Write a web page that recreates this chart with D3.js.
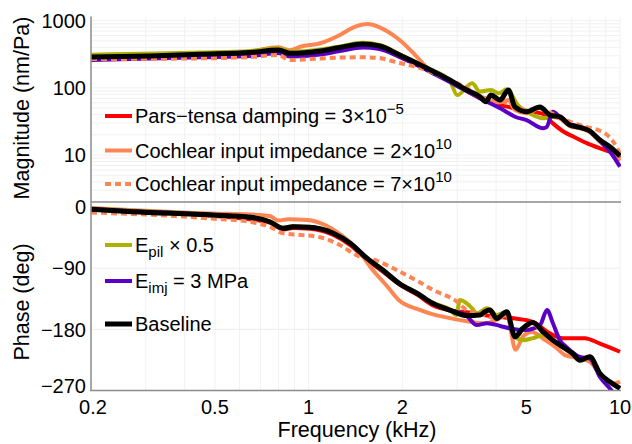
<!DOCTYPE html>
<html>
<head>
<meta charset="utf-8">
<script src="https://cdn.jsdelivr.net/npm/d3@7"></script>
<style>
  body { margin: 0; background: #fff; }
  text { font-family: "Liberation Sans", Arial, sans-serif; fill: #000; }
</style>
</head>
<body>
<div id="chart"></div>
<script>
// tick labels
const xTicks = [0.2, 0.5, 1, 2, 5, 10]
const magTicks = [10, 100, 1000]
const phaseTicks = [0, -90, -180, -270]

// magnitude (nm/Pa), [kHz, value]
const magRed = [[0.2,280],[0.45,305],[0.65,325],[0.8,352],[0.87,315],[1.09,340],[1.26,380],[1.49,420],[1.69,390],[1.96,290],[2.39,190],[2.84,125],[3.22,90],[3.55,70],[4.12,55.6],[4.6,49.6],[5.25,44],[5.66,40.8],[6.09,29.6],[6.6,22.2],[7.1,18.7],[7.85,14.9],[8.62,12.6],[9.28,11.2],[10,9.0]]
const magCoral = [[0.2,285],[0.45,318],[0.65,348],[0.8,402],[0.87,362],[0.94,410],[1.09,461],[1.26,612],[1.4,805],[1.55,893],[1.69,798],[1.96,516],[2.2,308],[2.39,204],[2.84,127],[3.22,90],[3.55,70],[4.12,61],[4.38,66],[4.6,46.8],[5.01,42],[5.53,50],[5.96,38],[6.41,35],[6.9,27],[7.43,25],[8.0,22],[8.62,15.7],[9.28,12],[10,8.2]]
const magCoralDash = [[0.2,269],[0.45,275],[0.65,288],[0.8,308],[0.87,260],[1.09,274],[1.26,283],[1.49,285],[1.69,278],[1.85,251],[1.96,235],[2.39,184],[2.84,131],[3.22,100],[3.55,75],[4.12,63.6],[4.6,54],[5.01,47],[5.53,50],[6.09,40.8],[6.9,31.4],[7.83,26.1],[8.62,23],[9.08,20],[9.5,16],[10,10.5]]
const magOlive = [[0.2,312],[0.45,335],[0.65,355],[0.8,385],[0.87,345],[1.09,372],[1.26,415],[1.49,470],[1.69,435],[1.96,315],[2.39,200],[2.84,128],[3.0,78],[3.35,117],[3.55,88],[3.85,93],[4.08,83],[4.33,95],[4.7,55.6],[5.25,39.4],[5.66,35.2],[6.09,37.2],[6.41,37],[6.9,28],[7.43,25.8],[8.0,22.8],[8.62,16.7],[9.28,13.3],[10,9.7]]
const magPurple = [[0.2,260],[0.45,285],[0.65,298],[0.8,330],[0.87,293],[1.09,314],[1.26,354],[1.49,399],[1.69,379],[1.96,288],[2.39,185],[2.84,122],[3.22,90],[3.55,70],[4.12,49.6],[4.38,42.2],[4.6,37.2],[5.01,33.2],[5.66,25],[5.81,26],[6.09,44],[6.41,37],[6.9,28.8],[7.43,26.8],[8.0,22.8],[8.62,16.2],[9.28,11.3],[10,6.7]]
const magBaseline = [[0.2,288],[0.31,298],[0.45,316],[0.65,336],[0.8,366],[0.87,327],[1.09,354],[1.26,399],[1.49,450],[1.69,420],[1.96,308],[2.39,198],[2.84,131],[3.22,93],[3.55,74],[3.71,62],[3.85,78],[4.12,66],[4.38,93],[4.6,52],[5.01,44],[5.53,52],[5.96,39.4],[6.41,37],[6.9,28],[7.43,25.8],[8.0,22.8],[8.62,16.7],[9.28,13.3],[10,9.7]]

// phase (deg), [kHz, value]
const phRed = [[0.2,-4],[0.49,-13],[0.75,-23],[0.83,-33],[0.89,-31],[1.01,-32],[1.2,-41],[1.36,-56],[1.54,-78],[1.73,-95],[1.96,-114],[2.23,-129],[2.51,-145],[2.84,-152],[3.22,-155],[4.12,-162],[4.6,-164],[5.25,-169],[5.96,-186],[6.55,-193],[7.7,-193],[8.62,-201],[10,-213]]
const phCoral = [[0.2,-1.5],[0.49,-9.6],[0.65,-11],[0.75,-13.3],[0.8,-20],[0.86,-18],[0.99,-19],[1.13,-26.5],[1.27,-41],[1.44,-63.3],[1.59,-90],[1.79,-117],[1.96,-138],[2.23,-150],[2.51,-158],[2.84,-163.5],[3.22,-168],[3.68,-171],[4.02,-166],[4.33,-159],[4.62,-210],[4.87,-191],[5.2,-184],[5.76,-196],[6.2,-206],[6.66,-218],[7.43,-223],[8.0,-228],[8.62,-245],[9.5,-260],[10,-257]]
const phCoralDash = [[0.2,-8],[0.49,-17],[0.65,-22],[0.75,-29],[0.83,-38.7],[0.94,-41],[1.09,-44.6],[1.26,-56],[1.44,-72],[1.63,-78],[1.96,-95],[2.3,-112],[2.51,-122],[3.0,-139.5],[3.22,-151.7],[3.5,-156],[4.02,-164],[4.33,-156],[4.6,-192],[4.87,-180],[5.25,-172],[5.66,-185],[6.09,-198],[6.55,-207],[7.05,-217],[7.43,-226],[8.0,-222],[8.62,-246],[9.28,-258],[10,-266]]
const phOlive = [[0.2,-2.5],[0.49,-11],[0.65,-14.5],[0.75,-21],[0.83,-30.5],[0.89,-28.5],[1.01,-29.5],[1.2,-38],[1.36,-53],[1.54,-75],[1.73,-92],[1.96,-112],[2.23,-126],[2.51,-141],[2.84,-151],[2.98,-159],[3.06,-137],[3.35,-149],[3.47,-156.6],[3.74,-149],[4.02,-159],[4.33,-154],[4.6,-191],[4.87,-196],[5.25,-193],[5.66,-188.5],[6.09,-196],[6.55,-205.8],[7.05,-215.5],[7.43,-225.4],[8.0,-220.5],[8.62,-245],[9.28,-257.3],[10,-267]]
const phPurple = [[0.2,-3.4],[0.49,-11.8],[0.65,-15.2],[0.75,-21.7],[0.83,-31.4],[0.89,-29],[1.01,-29.9],[1.2,-38.7],[1.36,-53.5],[1.54,-75.6],[1.73,-92.8],[1.96,-113],[2.23,-127],[2.51,-142],[2.84,-151.7],[3.22,-160.5],[3.47,-173.8],[3.74,-171],[4.12,-175],[4.44,-178.7],[4.97,-181],[5.53,-174],[5.83,-151.7],[6.09,-171],[6.41,-196],[6.72,-205.8],[7.43,-220.5],[8.0,-223],[8.62,-250],[9.28,-267],[9.5,-272.5],[10,-281]]
const phBaseline = [[0.2,-3.4],[0.27,-6.9],[0.49,-11.8],[0.65,-15.2],[0.75,-21.7],[0.83,-31.4],[0.89,-29],[1.01,-29.9],[1.2,-38.7],[1.36,-53.5],[1.54,-75.6],[1.73,-92.8],[1.96,-113],[2.23,-127],[2.51,-142],[2.84,-151.7],[3.22,-159.8],[3.55,-159],[3.68,-154],[3.82,-151.7],[4.02,-164],[4.33,-154],[4.6,-191],[4.87,-178.7],[5.25,-170],[5.66,-183.7],[6.09,-196],[6.55,-205.8],[7.05,-215.5],[7.43,-225.4],[8.0,-220.5],[8.62,-245],[9.28,-257.3],[10,-267]]

const RED = '#ff0000', CORAL = '#ff8552', OLIVE = '#b0b000', PURPLE = '#5a00c4', BLACK = '#000'

const width = 632, height = 444
const svg = d3.select('#chart').append('svg')
  .attr('width', width).attr('height', height)

const x = d3.scaleLog().domain([0.2, 10]).range([91, 620])
const yMag = d3.scaleLog().domain([2, 1000]).range([202, 20.7])
const yPh = d3.scaleLinear().domain([-270, 0]).range([390.5, 207])

const gridColor = '#f1f1f1'
// minor log grid values
const xGrid = [0.2,0.3,0.4,0.5,0.6,0.7,0.8,0.9,1,2,3,4,5,6,7,8,9,10]
const magGrid = []
;[1, 10, 100].forEach(d => { for (let k = 1; k <= 9; k++) if (d * k >= 2) magGrid.push(d * k) })
magGrid.push(1000)
const phGrid = [-90, -180]

const grid = svg.append('g')
grid.selectAll('.vg1').data(xGrid).join('line')
  .attr('x1', d => x(d)).attr('x2', d => x(d))
  .attr('y1', 17).attr('y2', 202)
  .attr('stroke', gridColor).attr('stroke-width', 1)
grid.selectAll('.vg2').data(xGrid).join('line')
  .attr('x1', d => x(d)).attr('x2', d => x(d))
  .attr('y1', 203).attr('y2', 390.5)
  .attr('stroke', gridColor).attr('stroke-width', 1)
grid.selectAll('.hg1').data(magGrid).join('line')
  .attr('x1', 91).attr('x2', 620)
  .attr('y1', d => yMag(d)).attr('y2', d => yMag(d))
  .attr('stroke', gridColor).attr('stroke-width', 1)
grid.selectAll('.hg2').data(phGrid).join('line')
  .attr('x1', 91).attr('x2', 620)
  .attr('y1', d => yPh(d)).attr('y2', d => yPh(d))
  .attr('stroke', '#ececec').attr('stroke-width', 1)

// clip paths
const defs = svg.append('defs')
defs.append('clipPath').attr('id', 'clipTop').append('rect')
  .attr('x', 91).attr('y', 15).attr('width', 530).attr('height', 187)
defs.append('clipPath').attr('id', 'clipBot').append('rect')
  .attr('x', 91).attr('y', 203).attr('width', 530).attr('height', 188)

const series = [
  { mag: magRed, ph: phRed, color: RED, w: 4 },
  { mag: magCoral, ph: phCoral, color: CORAL, w: 4 },
  { mag: magOlive, ph: phOlive, color: OLIVE, w: 4 },
  { mag: magPurple, ph: phPurple, color: PURPLE, w: 4 },
  { mag: magCoralDash, ph: phCoralDash, color: CORAL, w: 4, dash: '6,4' },
  { mag: magBaseline, ph: phBaseline, color: BLACK, w: 5 }
]

const lineMag = d3.line().x(d => x(d[0])).y(d => yMag(d[1])).curve(d3.curveMonotoneX)
const linePh = d3.line().x(d => x(d[0])).y(d => yPh(d[1])).curve(d3.curveMonotoneX)

const topG = svg.append('g').attr('clip-path', 'url(#clipTop)')
const botG = svg.append('g').attr('clip-path', 'url(#clipBot)')

series.forEach(s => {
  topG.append('path')
    .attr('d', lineMag(s.mag))
    .attr('fill', 'none')
    .attr('stroke', s.color)
    .attr('stroke-width', s.w)
    .attr('stroke-linejoin', 'round')
    .attr('stroke-dasharray', s.dash || null)
  botG.append('path')
    .attr('d', linePh(s.ph))
    .attr('fill', 'none')
    .attr('stroke', s.color)
    .attr('stroke-width', s.w)
    .attr('stroke-linejoin', 'round')
    .attr('stroke-dasharray', s.dash || null)
})

// axis lines
const axisColor = '#8c8c8c'
svg.append('line').attr('x1', 91).attr('x2', 91).attr('y1', 16.5).attr('y2', 391)
  .attr('stroke', axisColor).attr('stroke-width', 1.5)
svg.append('line').attr('x1', 90.5).attr('x2', 621).attr('y1', 202).attr('y2', 202)
  .attr('stroke', axisColor).attr('stroke-width', 1.5)
svg.append('line').attr('x1', 90.5).attr('x2', 621).attr('y1', 390.5).attr('y2', 390.5)
  .attr('stroke', axisColor).attr('stroke-width', 1.5)

// tick labels
const tickSize = 20
svg.append('g').selectAll('text').data(xTicks).join('text')
  .attr('x', d => x(d) + (d === 0.2 ? 2 : 0))
  .attr('y', 414)
  .attr('text-anchor', 'middle')
  .attr('font-size', tickSize)
  .text(d => d)
svg.append('g').selectAll('text').data(magTicks).join('text')
  .attr('x', 86)
  .attr('y', d => yMag(d))
  .attr('dy', '0.36em')
  .attr('text-anchor', 'end')
  .attr('font-size', tickSize)
  .text(d => d)
svg.append('g').selectAll('text').data(phaseTicks).join('text')
  .attr('x', 86)
  .attr('y', d => yPh(d) + (d === -270 ? -5 : 0))
  .attr('dy', '0.36em')
  .attr('text-anchor', 'end')
  .attr('font-size', tickSize)
  .text(d => d === 0 ? '0' : '\u2212' + Math.abs(d))

// axis titles
svg.append('text')
  .attr('transform', 'translate(29,108) rotate(-90)')
  .attr('text-anchor', 'middle')
  .attr('font-size', 21.5)
  .text('Magnitude (nm/Pa)')
svg.append('text')
  .attr('transform', 'translate(29,302) rotate(-90)')
  .attr('text-anchor', 'middle')
  .attr('font-size', 21.5)
  .text('Phase (deg)')
svg.append('text')
  .attr('x', 357).attr('y', 437)
  .attr('text-anchor', 'middle')
  .attr('font-size', 21.5)
  .text('Frequency (kHz)')

// legends
const legendTop = [
  { y: 116, color: RED, text: 'Pars\u2212tensa damping = 3\u00d710', sup: '\u22125' },
  { y: 150.5, color: CORAL, text: 'Cochlear input impedance = 2\u00d710', sup: '10' },
  { y: 184, color: CORAL, text: 'Cochlear input impedance = 7\u00d710', sup: '10', dash: '6,4' }
]
const legendBot = [
  { y: 245, color: OLIVE, text: 'E', sub: 'pil', rest: ' \u00d7 0.5' },
  { y: 281, color: PURPLE, text: 'E', sub: 'imj', rest: ' = 3 MPa' },
  { y: 324, color: BLACK, text: 'Baseline' }
]

function drawLegend(items) {
  items.forEach(d => {
    svg.append('line')
      .attr('x1', 105).attr('x2', 132)
      .attr('y1', d.y).attr('y2', d.y)
      .attr('stroke', d.color)
      .attr('stroke-width', d.color === BLACK ? 5 : 4)
      .attr('stroke-dasharray', d.dash || null)
    const t = svg.append('text')
      .attr('x', 135).attr('y', d.y)
      .attr('dy', '0.36em')
      .attr('font-size', 20)
    t.append('tspan').text(d.text)
    if (d.sup) t.append('tspan').attr('font-size', 15).attr('dy', -9).text(d.sup)
    if (d.sub) {
      t.append('tspan').attr('font-size', 15).attr('dy', 5).text(d.sub)
      t.append('tspan').attr('dy', -5).text(d.rest)
    }
  })
}
drawLegend(legendTop)
drawLegend(legendBot)
</script>
</body>
</html>
